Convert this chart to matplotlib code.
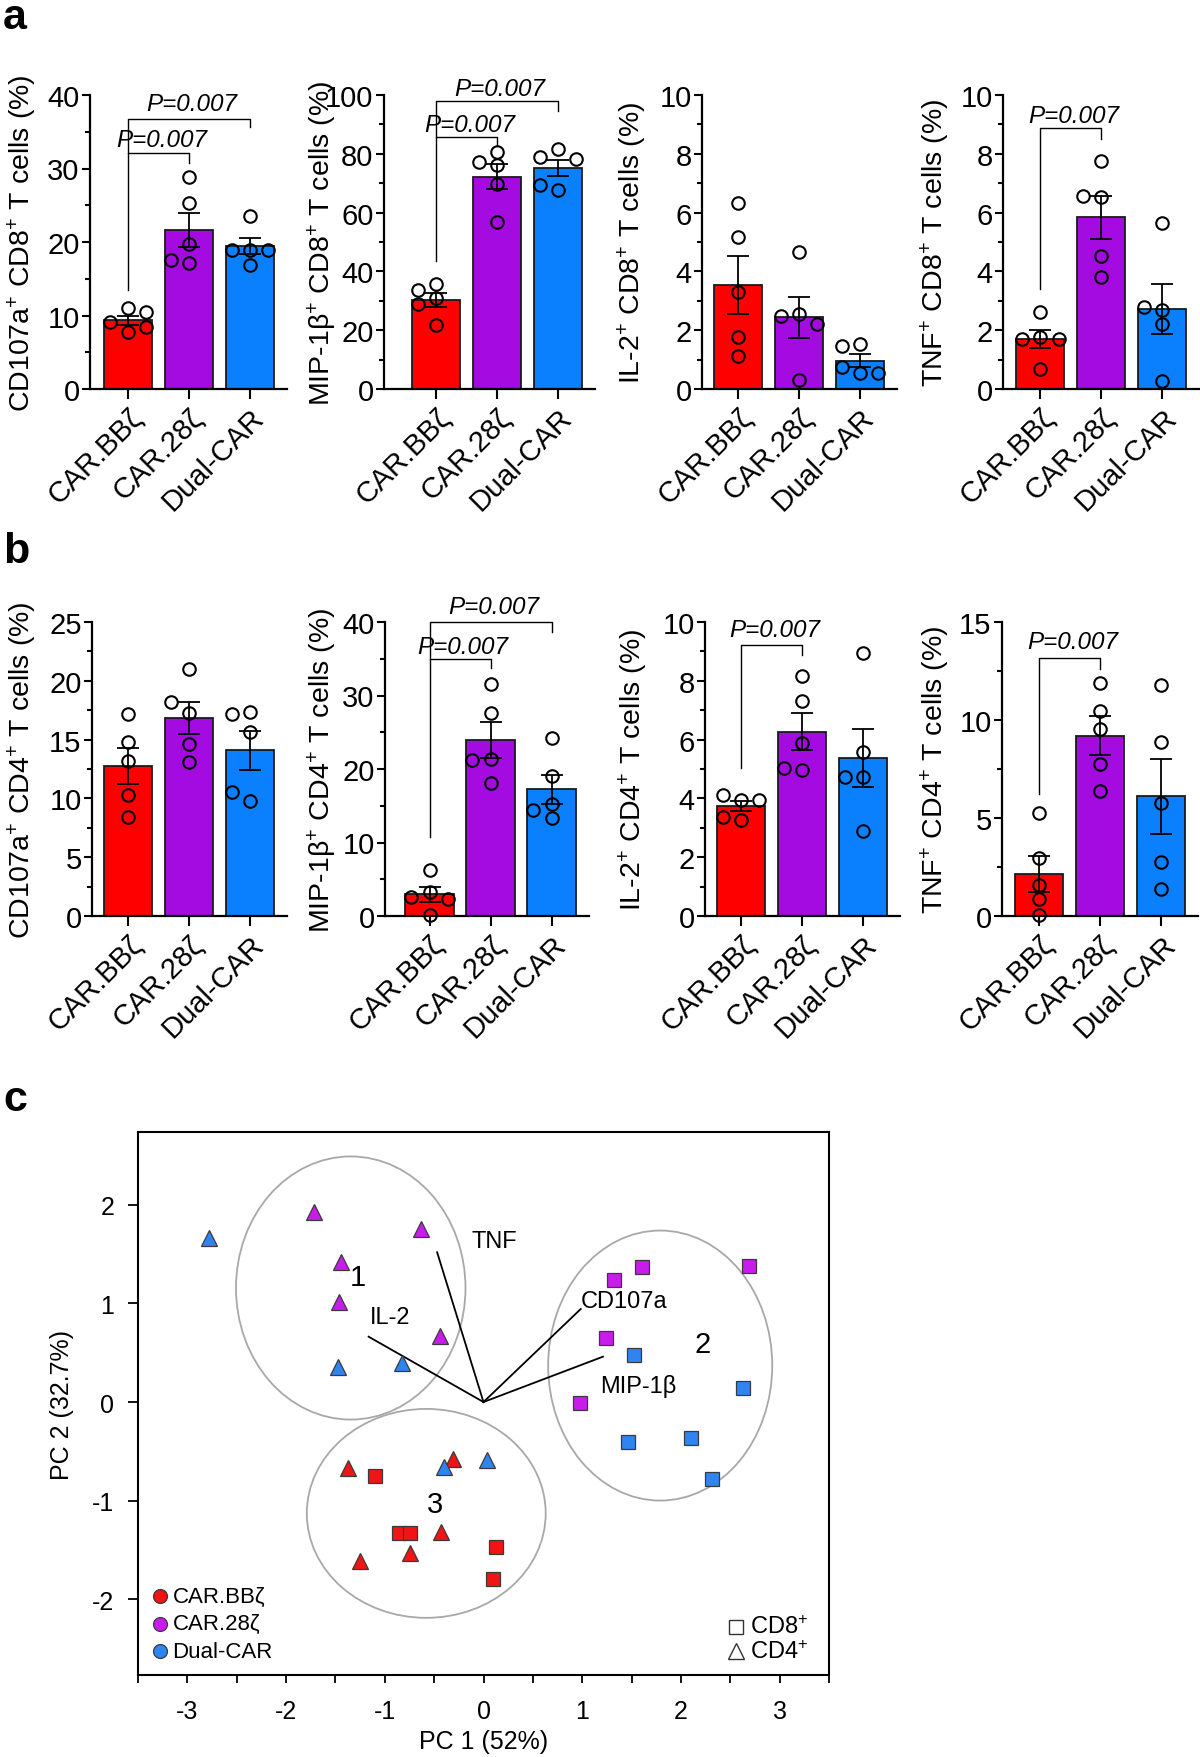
import numpy as np
import matplotlib
matplotlib.use('Agg')
import matplotlib.pyplot as plt
from matplotlib.patches import Ellipse
from matplotlib.ticker import MultipleLocator

plt.rcParams['font.family'] = ['Liberation Sans', 'DejaVu Sans']
plt.rcParams['mathtext.fontset'] = 'custom'
plt.rcParams['mathtext.rm'] = 'Liberation Sans'
plt.rcParams['mathtext.it'] = 'Liberation Sans:italic'
plt.rcParams['axes.unicode_minus'] = False

W, H = 1200, 1758

groups = ['CAR.BBζ', 'CAR.28ζ', 'Dual-CAR']
bar_colors = ['#ff0000', '#a30be0', '#0a80ff']
pca_colors = ['#f01414', '#c81cec', '#2f84f2']

# panel a: % positive CD8+ T cells, 5 donors per group (BB, 28, Dual)
cd107a_cd8 = [[10.98, 7.8, 9.07, 10.43, 8.4],
              [28.8, 25.3, 19.7, 17.1, 17.5],
              [23.5, 18.9, 18.9, 18.9, 16.9]]
mip_cd8 = [[35.7, 33.7, 30.8, 29.0, 21.9],
           [80.7, 77.3, 76.2, 69.7, 56.9],
           [81.6, 79.0, 78.2, 67.7, 69.4]]
il2_cd8 = [[6.33, 5.16, 3.29, 1.76, 1.13],
           [4.65, 2.55, 2.5, 2.2, 0.3],
           [1.53, 1.45, 0.53, 0.74, 0.53]]
tnf_cd8 = [[2.61, 1.78, 1.70, 1.70, 0.68],
           [7.77, 6.52, 6.58, 4.51, 3.80],
           [5.64, 2.70, 2.78, 2.2, 0.28]]

# panel b: % positive CD4+ T cells
cd107a_cd4 = [[17.15, 14.8, 13.18, 10.26, 8.42],
              [20.98, 17.26, 18.2, 14.65, 13.1],
              [17.35, 17.2, 15.65, 9.75, 10.54]]
mip_cd4 = [[6.3, 3.3, 2.6, 2.3, 0.2],
           [31.6, 27.6, 21.4, 21.2, 18.1],
           [24.2, 19.0, 15.2, 14.4, 13.3]]
il2_cd4 = [[3.94, 4.11, 3.94, 3.26, 3.38],
           [8.17, 7.30, 5.88, 4.97, 5.05],
           [8.94, 5.59, 4.74, 4.74, 2.89]]
tnf_cd4 = [[5.24, 2.95, 1.59, 0.88, 0.03],
           [11.88, 10.47, 9.54, 7.75, 6.40],
           [11.79, 8.86, 5.77, 2.78, 1.36]]

p_label = 'P=0.007'

# panel c: PCA scores (PC1, PC2)
bb_cd8_x = [-1.095, -0.853, -0.74, 0.124, 0.094]
bb_cd8_y = [-0.754, -1.33, -1.33, -1.475, -1.80]
bb_cd4_x = [-1.377, -0.31, -0.43, -0.74, -1.256]
bb_cd4_y = [-0.67, -0.58, -1.32, -1.53, -1.61]
z28_cd8_x = [1.61, 1.32, 2.69, 1.24, 0.975]
z28_cd8_y = [1.37, 1.24, 1.38, 0.65, -0.01]
z28_cd4_x = [-1.716, -0.63, -1.445, -1.462, -0.437]
z28_cd4_y = [1.93, 1.76, 1.42, 1.01, 0.667]
dual_cd8_x = [1.52, 2.63, 1.46, 2.10, 2.31]
dual_cd8_y = [0.48, 0.14, -0.41, -0.37, -0.78]
dual_cd4_x = [-2.78, -1.475, -0.825, -0.40, 0.037]
dual_cd4_y = [1.66, 0.36, 0.40, -0.66, -0.59]

loading_names = ['TNF', 'IL-2', 'CD107a', 'MIP-1β']
loading_x = [-0.47, -1.164, 0.985, 1.21]
loading_y = [1.52, 0.663, 0.944, 0.46]

fig = plt.figure(figsize=(W / 100, H / 100), dpi=100)


def px_axes(left, right, top, bottom):
    return fig.add_axes([left / W, 1 - bottom / H, (right - left) / W, (bottom - top) / H])


def swarm(values, ppy, ppx=61, d=13, step=0.3):
    '''simple side-by-side spreading of overlapping dots'''
    placed = []
    offs = []
    for v in values:
        ox = 0
        for k in [0, -1, 1, -2, 2]:
            ox = k * step
            if all(np.hypot((ox - px_) * ppx, (v - pv) * ppy) >= d for px_, pv in placed):
                break
        placed.append((ox, v))
        offs.append(ox)
    return np.array(offs)


def bar_panel(left_px, xl, top, bottom, vals, ymax, major, minor, ylabel, label_x, brackets):
    xr = 2.61
    ax = px_axes(left_px, left_px + (xr - xl) * 61, top, bottom)
    x = np.arange(3)
    means = [np.mean(v) for v in vals]
    sems = [np.std(v, ddof=1) / np.sqrt(len(v)) for v in vals]
    ax.bar(x, means, width=0.79, color=bar_colors, edgecolor='#1a1a1a', linewidth=1.3, zorder=2)
    ax.errorbar(x, means, yerr=sems, fmt='none', ecolor='black', elinewidth=1.3,
                capsize=8, capthick=1.3, zorder=3)
    ppy = (bottom - top) / ymax
    for i, v in enumerate(vals):
        ax.plot(i + swarm(v, ppy), v, 'o', mfc='none', mec='black', ms=9, mew=1.5,
                zorder=4, clip_on=False)
    for i, j, yl, ya, yb, yt in brackets:
        ax.plot([i, i, j, j], [ya, yl, yl, yb], color='black', lw=1.0, clip_on=False, zorder=5)
        ax.text((i + j) / 2 + 0.05, yt, p_label, style='italic', fontsize=17.5, ha='center', va='center')
    ax.set_xlim(xl, xr)
    ax.set_ylim(0, ymax)
    ax.yaxis.set_major_locator(MultipleLocator(major))
    ax.yaxis.set_minor_locator(MultipleLocator(minor))
    ax.set_xticks(x)
    ax.set_xticklabels(groups, rotation=45, ha='right', va='top', rotation_mode='anchor', fontsize=21)
    ax.tick_params(axis='y', which='major', length=5.5, width=1.5, labelsize=21, pad=2)
    ax.tick_params(axis='y', which='minor', length=3.5, width=1.5)
    ax.tick_params(axis='x', length=7, width=1.5, pad=3)
    for s in ['top', 'right']:
        ax.spines[s].set_visible(False)
    for s in ['left', 'bottom']:
        ax.spines[s].set_linewidth(1.6)
    ax.set_ylabel(ylabel, fontsize=20.5, va='center')
    width_px = (xr - xl) * 61
    ax.yaxis.set_label_coords((label_x - left_px) / width_px, 0.5)
    return ax


# panel a
ta, ba = 96, 390
bar_panel(90, -0.62, ta, ba, cd107a_cd8, 40, 10, 5, 'CD107a$^{+}$ CD8$^{+}$ T cells (%)', 22,
          [(0, 1, 32.07, 13.5, 30.8, 34.0), (0, 2, 36.8, 32.07, 35.6, 38.8)])
bar_panel(384, -0.85, ta, ba, mip_cd8, 100, 20, 10, 'MIP-1β$^{+}$ CD8$^{+}$ T cells (%)', 322,
          [(0, 1, 85.8, 43.6, 82.5, 90.1), (0, 2, 97.8, 85.8, 94.4, 102.3)])
bar_panel(702, -0.59, ta, ba, il2_cd8, 10, 2, 1, 'IL-2$^{+}$ CD8$^{+}$ T cells (%)', 632, [])
bar_panel(1003, -0.61, ta, ba, tnf_cd8, 10, 2, 1, 'TNF$^{+}$ CD8$^{+}$ T cells (%)', 935,
          [(0, 1, 8.87, 3.40, 8.5, 9.30)])

# panel b
tb, bb = 623, 917
bar_panel(92, -0.59, tb, bb, cd107a_cd4, 25, 5, 2.5, 'CD107a$^{+}$ CD4$^{+}$ T cells (%)', 22, [])
bar_panel(385, -0.73, tb, bb, mip_cd4, 40, 10, 5, 'MIP-1β$^{+}$ CD4$^{+}$ T cells (%)', 322,
          [(0, 1, 34.95, 10.73, 33.7, 36.7), (0, 2, 40.0, 34.95, 38.7, 42.1)])
bar_panel(705, -0.59, tb, bb, il2_cd4, 10, 2, 1, 'IL-2$^{+}$ CD4$^{+}$ T cells (%)', 633,
          [(0, 1, 9.23, 5.02, 8.89, 9.74)])
bar_panel(1002, -0.61, tb, bb, tnf_cd4, 15, 5, 2.5, 'TNF$^{+}$ CD4$^{+}$ T cells (%)', 935,
          [(0, 1, 13.18, 6.23, 12.62, 14.03)])

# panel c: PCA biplot
ax = px_axes(138, 829, 1133, 1676)
ax.set_xlim(-3.5, 3.5)
ax.set_ylim(-2.77, 2.74)
for c, w, h in [((-1.345, 1.157), 2.325, 2.67), ((1.79, 0.37), 2.27, 2.74), ((-0.58, -1.13), 2.42, 2.12)]:
    ax.add_patch(Ellipse(c, w, h, fill=False, ec='#a8a8a8', lw=1.3, zorder=1))
for lx, ly in zip(loading_x, loading_y):
    ax.plot([0, lx], [0, ly], color='black', lw=1.3, zorder=2)
ax.text(-0.12, 1.63, 'TNF', fontsize=17, ha='left', va='center')
ax.text(-0.95, 0.86, 'IL-2', fontsize=17, ha='center', va='center')
ax.text(0.985, 1.03, 'CD107a', fontsize=17, ha='left', va='center')
ax.text(1.18, 0.165, 'MIP-1β', fontsize=17, ha='left', va='center')
ax.text(-1.27, 1.27, '1', fontsize=21, ha='center', va='center')
ax.text(2.22, 0.59, '2', fontsize=21, ha='center', va='center')
ax.text(-0.49, -1.035, '3', fontsize=21, ha='center', va='center')

scores = [(bb_cd8_x, bb_cd8_y, 0, 's'), (bb_cd4_x, bb_cd4_y, 0, '^'),
          (z28_cd8_x, z28_cd8_y, 1, 's'), (z28_cd4_x, z28_cd4_y, 1, '^'),
          (dual_cd8_x, dual_cd8_y, 2, 's'), (dual_cd4_x, dual_cd4_y, 2, '^')]
for xs, ys, g, m in scores:
    ax.plot(xs, ys, m, color=pca_colors[g], mec='#3a3a3a', mew=0.9,
            ms=9.8 if m == 's' else 12, ls='none', zorder=3)

# legends drawn inside the plot
for k, name in enumerate(groups):
    yy = -1.97 - 0.28 * k
    ax.plot(-3.28, yy, 'o', color=pca_colors[k], mec='#3a3a3a', mew=0.9, ms=10)
    ax.text(-3.15, yy, name, fontsize=16, ha='left', va='center')
ax.plot(2.56, -2.28, 's', mfc='white', mec='#333333', mew=1.0, ms=9.5)
ax.text(2.70, -2.28, 'CD8$^{+}$', fontsize=17, ha='left', va='center')
ax.plot(2.56, -2.53, '^', mfc='white', mec='#333333', mew=1.0, ms=11)
ax.text(2.70, -2.53, 'CD4$^{+}$', fontsize=17, ha='left', va='center')

ax.set_xticks(np.arange(-3, 4, 1))
ax.set_xticks(np.arange(-3.5, 3.6, 0.5), minor=True)
ax.set_yticks(np.arange(-2, 3, 1))
ax.tick_params(axis='x', which='both', length=6, width=1.3, labelsize=18, pad=11)
ax.tick_params(axis='y', length=7, width=1.3, labelsize=18, pad=10)
for s in ax.spines.values():
    s.set_linewidth(1.5)
ax.set_xlabel('PC 1 (52%)', fontsize=18, va='center')
ax.xaxis.set_label_coords(0.5, -(1742 - 1676) / 543)
ax.set_ylabel('PC 2 (32.7%)', fontsize=18, va='center')
ax.yaxis.set_label_coords((62 - 138) / 691, 0.5)

# panel letters
for letter, base in [('a', 29), ('b', 563), ('c', 1111)]:
    fig.text(3 / W, 1 - base / H, letter, fontsize=31, fontweight='bold', ha='left', va='baseline')

fig.savefig('out.png', dpi=100)
